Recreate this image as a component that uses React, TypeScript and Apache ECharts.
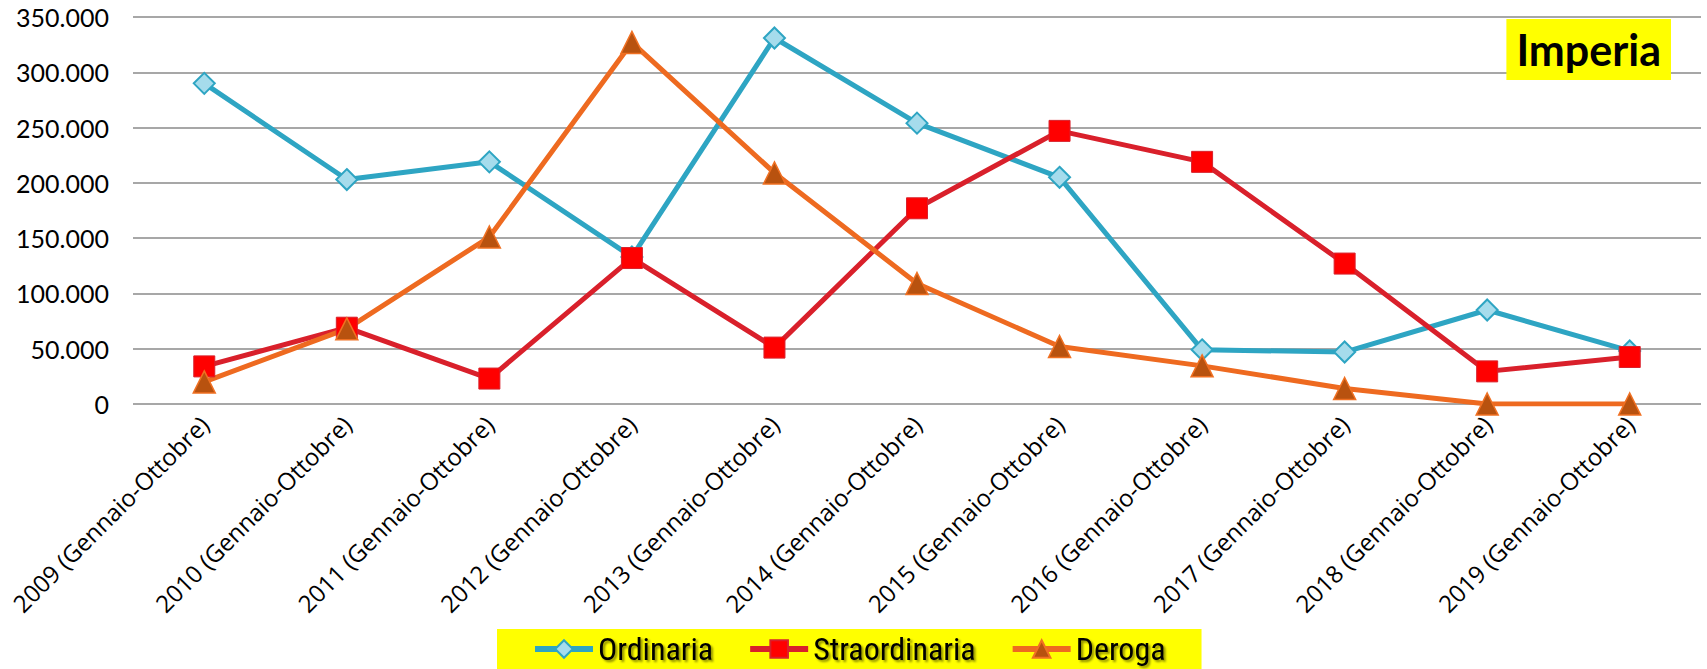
import React, { useEffect, useRef } from "react";
import * as echarts from "echarts";

const categories = [
  "2009 (Gennaio-Ottobre)",
  "2010 (Gennaio-Ottobre)",
  "2011 (Gennaio-Ottobre)",
  "2012 (Gennaio-Ottobre)",
  "2013 (Gennaio-Ottobre)",
  "2014 (Gennaio-Ottobre)",
  "2015 (Gennaio-Ottobre)",
  "2016 (Gennaio-Ottobre)",
  "2017 (Gennaio-Ottobre)",
  "2018 (Gennaio-Ottobre)",
  "2019 (Gennaio-Ottobre)",
];

const ordinaria = [290000, 203000, 219000, 133000, 331000, 254000, 205000, 49000, 47000, 85000, 48000];
const straordinaria = [34000, 69000, 23000, 132000, 51000, 177000, 247000, 219000, 127000, 29500, 42500];
const deroga = [20000, 68000, 151000, 327000, 209000, 109000, 52000, 34500, 14000, 0, 0];

const seriesNames = ["Ordinaria", "Straordinaria", "Deroga"];
const chartTitle = "Imperia";

const fmt = (v: number) => (v === 0 ? "0" : v.toLocaleString("de-DE"));

export default function App() {
  const ref = useRef<HTMLDivElement>(null);
  useEffect(() => {
    if (!ref.current) return;
    const chart = echarts.init(ref.current, undefined, { renderer: "svg" });
    const font = "Lato, 'Open Sans', sans-serif";
    const xfont = "'Open Sans', Lato, sans-serif";
    const legendFont = "'Liberation Sans Narrow', 'Roboto Condensed', Lato, sans-serif";
    chart.setOption({
      animation: false,
      backgroundColor: "#ffffff",
      textStyle: { fontFamily: font },
      title: {
        text: chartTitle,
        right: 36,
        top: 19,
        backgroundColor: "#ffff00",
        padding: [8, 10, 8, 10],
        textStyle: { fontSize: 43, fontWeight: "bold", color: "#000", fontFamily: font, lineHeight: 45 },
      },
      grid: { left: 133, right: 6, top: 17, bottom: 265, containLabel: false },
      legend: {
        data: seriesNames,
        left: 497,
        bottom: 0,
        backgroundColor: "#ffff00",
        padding: [4, 36, 4, 35],
        itemWidth: 58,
        itemHeight: 22,
        itemGap: 34,
        lineStyle: { width: 6 },
        textStyle: {
          fontSize: 32,
          fontWeight: "normal",
          color: "#000",
          fontFamily: legendFont,
          textShadowColor: "rgba(0,0,0,0.45)",
          textShadowOffsetX: 2,
          textShadowOffsetY: 2,
          textShadowBlur: 2,
        },
      },
      xAxis: {
        type: "category",
        data: categories,
        boundaryGap: true,
        axisLine: { show: false },
        axisTick: { show: false },
        axisLabel: { rotate: 45, interval: 0, fontSize: 24, color: "#000", margin: 16, fontFamily: xfont },
      },
      yAxis: {
        type: "value",
        min: 0,
        max: 350000,
        interval: 50000,
        axisLine: { show: false },
        axisTick: { show: false },
        axisLabel: { fontSize: 25, color: "#000", margin: 24, formatter: fmt, fontFamily: font },
        splitLine: { lineStyle: { color: "#8a8a8a", width: 1.5 } },
      },
      series: [
        {
          name: seriesNames[0],
          type: "line",
          data: ordinaria,
          symbol: "diamond",
          symbolSize: 21,
          lineStyle: { color: "#2ea5c3", width: 5 },
          itemStyle: { color: "#a6dcec", borderColor: "#2ea5c3", borderWidth: 2 },
        },
        {
          name: seriesNames[1],
          type: "line",
          data: straordinaria,
          symbol: "rect",
          symbolSize: 21,
          lineStyle: { color: "#d9202b", width: 5 },
          itemStyle: { color: "#ff0000", borderColor: "#d9202b", borderWidth: 1 },
        },
        {
          name: seriesNames[2],
          type: "line",
          data: deroga,
          symbol: "triangle",
          symbolSize: 22,
          lineStyle: { color: "#ee6a20", width: 5 },
          itemStyle: { color: "#b8520f", borderColor: "#f07022", borderWidth: 1.5 },
        },
      ],
    });
    return () => chart.dispose();
  }, []);
  return (
    <div
      ref={ref}
      style={{ position: "fixed", left: 0, top: 0, width: 1707, height: 669 }}
    />
  );
}
